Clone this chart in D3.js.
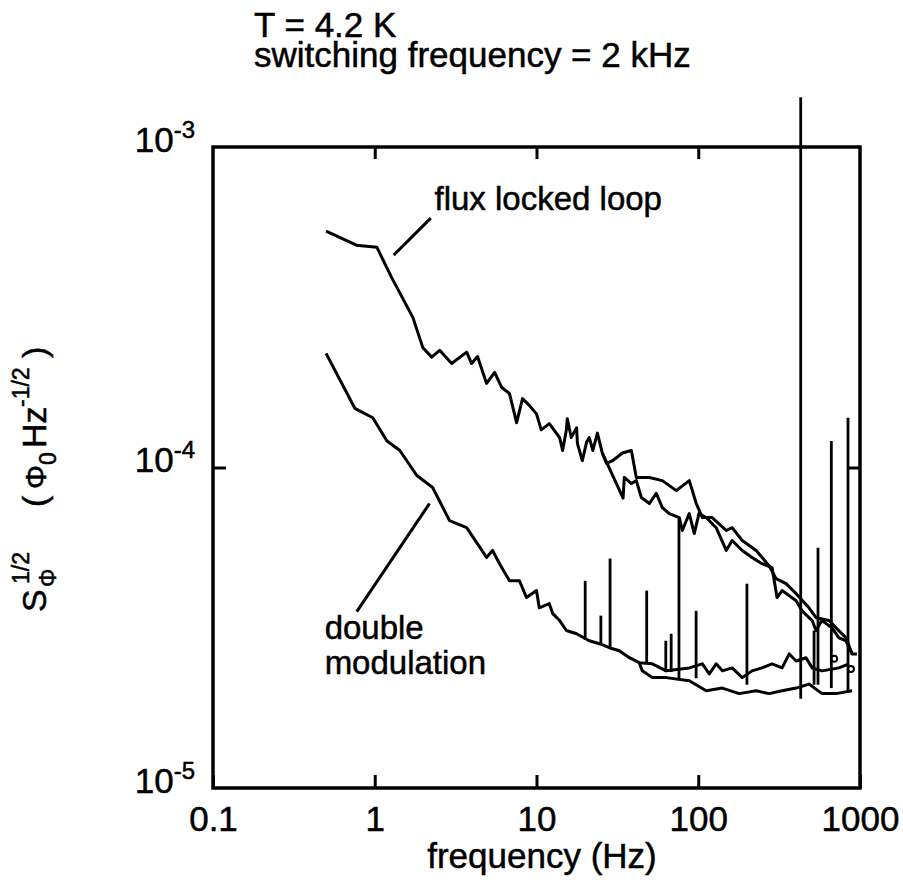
<!DOCTYPE html>
<html>
<head>
<meta charset="utf-8">
<script src="https://cdn.jsdelivr.net/npm/d3@7"></script>
<style>
  body { margin: 0; background: #fff; }
  svg { font-family: "Liberation Sans", Arial, sans-serif; }
  text { stroke: #000; stroke-width: 0.5px; }
</style>
</head>
<body>
<svg width="903" height="884"></svg>
<script>
// [frequency Hz, S^1/2 Phi0/sqrt(Hz)]
var fllUpper = [
  [0.5, 5.46e-4], [0.77, 4.94e-4], [1.03, 4.87e-4], [1.27, 3.92e-4], [1.72, 2.94e-4],
  [1.98, 2.37e-4], [2.25, 2.21e-4], [2.52, 2.32e-4], [2.99, 2.11e-4], [3.7, 2.29e-4],
  [3.97, 2.11e-4], [4.32, 2.22e-4], [4.91, 1.83e-4], [5.51, 1.98e-4], [6.08, 1.78e-4],
  [6.81, 1.7e-4], [7.53, 1.38e-4], [8.2, 1.64e-4], [9.05, 1.56e-4], [10, 1.47e-4],
  [10.7, 1.31e-4], [12, 1.37e-4], [13.9, 1.24e-4], [14.5, 1.13e-4], [15.3, 1.31e-4],
  [15.5, 1.42e-4], [16.4, 1.24e-4], [17.7, 1.33e-4], [17.9, 1.19e-4], [19, 1.07e-4],
  [19.2, 1.05e-4], [20.4, 1.2e-4], [21.2, 1.24e-4], [22.3, 1.13e-4], [23.8, 1.28e-4],
  [25.5, 1.11e-4], [27.1, 1.03e-4], [29.5, 1.05e-4], [34, 1.11e-4], [38.6, 1.13e-4],
  [41.4, 9.31e-5], [49.9, 9.31e-5], [60, 9.1e-5], [73.2, 8.47e-5], [88, 9.1e-5],
  [97.2, 7.72e-5], [106, 6.98e-5], [122, 6.98e-5], [149, 6.36e-5], [162, 6.49e-5],
  [187, 5.92e-5], [228, 5.51e-5], [274, 4.94e-5], [303, 4.5e-5], [349, 4.34e-5],
  [403, 4.04e-5], [484, 3.65e-5], [535, 3.4e-5], [644, 3.33e-5], [711, 3.16e-5],
  [820, 2.94e-5], [893, 2.62e-5], [957, 2.62e-5]
];
var fllLower = [
  [25.5, 1.11e-4], [31.2, 8.91e-5], [34.3, 8.03e-5], [34.9, 9.31e-5], [38.6, 8.91e-5],
  [41.4, 9.1e-5], [44.5, 8.06e-5], [49.9, 7.72e-5], [55, 8.3e-5], [60, 7.5e-5],
  [66.2, 7.18e-5], [76.4, 6.98e-5], [79.7, 6.36e-5], [88, 7.18e-5], [94.5, 6.22e-5],
  [101, 7.18e-5], [112, 6.98e-5], [129, 6.49e-5], [149, 5.51e-5], [162, 5.92e-5],
  [187, 5.51e-5], [215, 5.24e-5], [248, 5.01e-5], [286, 4.87e-5], [307, 3.93e-5],
  [330, 4.13e-5], [403, 3.84e-5], [438, 3.57e-5], [506, 3.33e-5], [535, 3.1e-5],
  [582, 3.33e-5], [671, 3.16e-5], [741, 2.94e-5], [820, 2.88e-5], [893, 2.62e-5]
];
var dmUpper = [
  [0.5, 2.27e-4], [0.753, 1.53e-4], [0.972, 1.43e-4], [1.19, 1.21e-4], [1.43, 1.13e-4],
  [1.82, 9.44e-5], [2.28, 8.66e-5], [2.9, 6.83e-5], [3.7, 6.49e-5], [4.91, 5.24e-5],
  [5.35, 5.51e-5], [5.91, 5.01e-5], [6.81, 4.43e-5], [7.85, 4.43e-5], [8.67, 3.93e-5],
  [10, 4.13e-5], [10.4, 3.65e-5], [12, 3.76e-5], [12.6, 3.5e-5], [13.9, 3.33e-5],
  [15.3, 3.1e-5], [17.7, 3.03e-5], [21.2, 2.88e-5], [24.5, 2.82e-5], [28.2, 2.74e-5],
  [32.5, 2.68e-5], [37.5, 2.55e-5], [43.2, 2.46e-5], [52, 2.44e-5], [63.4, 2.32e-5],
  [88, 2.37e-5], [106, 2.44e-5], [117, 2.27e-5], [129, 2.44e-5], [141, 2.32e-5],
  [162, 2.37e-5], [187, 2.21e-5], [215, 2.32e-5], [248, 2.37e-5], [286, 2.44e-5],
  [330, 2.37e-5], [365, 2.62e-5], [403, 2.49e-5], [464, 2.55e-5], [506, 2.37e-5],
  [582, 2.32e-5], [741, 2.37e-5], [855, 2.44e-5]
];
var dmLower = [
  [43.2, 2.46e-5], [45.1, 2.32e-5], [52, 2.21e-5], [63.4, 2.21e-5], [88, 2.16e-5],
  [112, 2.01e-5], [141, 2.05e-5], [179, 1.97e-5], [228, 2.01e-5], [274, 1.97e-5],
  [330, 2.01e-5], [403, 2.05e-5], [484, 2.11e-5], [582, 1.97e-5], [711, 1.97e-5],
  [893, 2.01e-5]
];
// line pickup spikes
var spikeFreq = [20, 25, 28.5, 48, 63, 68, 76, 97, 200, 430, 520, 550, 665, 843];
var spikeTop  = [4.43e-5, 3.45e-5, 5.2e-5, 4.13e-5, 2.88e-5, 3.03e-5, 6.9e-5, 3.57e-5, 4.34e-5, 1.43e-3, 3.1e-5, 5.62e-5, 1.21e-4, 1.43e-4];
var spikeBase = [2.9e-5, 2.8e-5, 2.75e-5, 2.45e-5, 2.3e-5, 2.3e-5, 2.2e-5, 2.2e-5, 2.1e-5, 1.9e-5, 2.1e-5, 2.1e-5, 2.05e-5, 2.0e-5];
var circles = [[692, 2.53e-5], [879, 2.35e-5]];

var xTicks = [0.1, 1, 10, 100, 1000];
var xTickLabels = ["0.1", "1", "10", "100", "1000"];
var yTicks = [1e-5, 1e-4, 1e-3];
var yTickExp = ["-5", "-4", "-3"];

var pLeft = 213, pRight = 860, pTop = 147, pBottom = 788;
var svg = d3.select("svg");

var x = d3.scaleLog().domain([0.1, 1000]).range([pLeft, pRight]);
var y = d3.scaleLog().domain([1e-5, 1e-3]).range([pBottom, pTop]);

// bottom axis (ticks inward)
var bottomAxis = d3.axisBottom(x).tickValues(xTicks)
  .tickFormat(function(d, i) { return xTickLabels[i]; })
  .tickSizeInner(-13).tickSizeOuter(0).tickPadding(18);
var gb = svg.append("g").attr("transform", "translate(0," + pBottom + ")").call(bottomAxis);
gb.select(".domain").remove();
gb.selectAll(".tick line").attr("stroke-width", 3).attr("stroke", "#000");
gb.selectAll(".tick text").attr("font-size", 35).attr("fill", "#000")
  .attr("font-family", "Liberation Sans, Arial, sans-serif");

var topAxis = d3.axisTop(x).tickValues([1, 10, 100]).tickFormat("")
  .tickSizeInner(-12).tickSizeOuter(0);
var gt = svg.append("g").attr("transform", "translate(0," + pTop + ")").call(topAxis);
gt.select(".domain").remove();
gt.selectAll(".tick line").attr("stroke-width", 3).attr("stroke", "#000");

var leftAxis = d3.axisLeft(y).tickValues(yTicks).tickFormat("")
  .tickSizeInner(-13).tickSizeOuter(0).tickPadding(18);
var gl = svg.append("g").attr("transform", "translate(" + pLeft + ",0)").call(leftAxis);
gl.select(".domain").remove();
gl.selectAll(".tick line").attr("stroke-width", 3).attr("stroke", "#000")
  .attr("display", function(d) { return d === 1e-4 ? null : "none"; });
gl.selectAll(".tick text")
  .attr("font-family", "Liberation Sans, Arial, sans-serif")
  .attr("fill", "#000").attr("dy", "0.42em")
  .each(function(d, i) {
    var t = d3.select(this);
    t.append("tspan").attr("font-size", 35).text("10");
    t.append("tspan").attr("font-size", 24).attr("dy", -14).text(yTickExp[i]);
  });

var rightAxis = d3.axisRight(y).tickValues([1e-4]).tickFormat("")
  .tickSizeInner(-13).tickSizeOuter(0);
var gr = svg.append("g").attr("transform", "translate(" + pRight + ",0)").call(rightAxis);
gr.select(".domain").remove();
gr.selectAll(".tick line").attr("stroke-width", 3).attr("stroke", "#000");

// frame
svg.append("rect")
  .attr("x", pLeft).attr("y", pTop)
  .attr("width", pRight - pLeft).attr("height", pBottom - pTop)
  .attr("fill", "none").attr("stroke", "#000").attr("stroke-width", 3.5);

var line = d3.line()
  .x(function(d) { return x(d[0]); })
  .y(function(d) { return y(d[1]); });

[fllUpper, fllLower, dmUpper, dmLower].forEach(function(s) {
  svg.append("path").datum(s)
    .attr("d", line)
    .attr("fill", "none").attr("stroke", "#000")
    .attr("stroke-width", 3).attr("stroke-linejoin", "round");
});

svg.selectAll(".spike")
  .data(spikeFreq).enter()
  .append("line")
  .attr("class", "spike")
  .attr("x1", function(d) { return x(d); })
  .attr("x2", function(d) { return x(d); })
  .attr("y1", function(d, i) { return y(spikeBase[i]); })
  .attr("y2", function(d, i) { return y(spikeTop[i]); })
  .attr("stroke", "#000").attr("stroke-width", 2.8);

svg.selectAll(".circ")
  .data(circles).enter()
  .append("circle")
  .attr("cx", function(d) { return x(d[0]); })
  .attr("cy", function(d) { return y(d[1]); })
  .attr("r", 3).attr("fill", "none").attr("stroke", "#000").attr("stroke-width", 2);

// annotations
var ann = svg.append("g").attr("font-size", 33).attr("fill", "#000");
ann.append("text").attr("x", x(2.34)).attr("y", y(6.36e-4)).text("flux locked loop");
svg.append("line")
  .attr("x1", x(2.22)).attr("y1", y(6.0e-4))
  .attr("x2", x(1.31)).attr("y2", y(4.6e-4))
  .attr("stroke", "#000").attr("stroke-width", 3);
ann.append("text").attr("x", x(0.49)).attr("y", y(2.92e-5)).text("double");
ann.append("text").attr("x", x(0.49)).attr("y", y(2.27e-5)).text("modulation");
svg.append("line")
  .attr("x1", x(2.18)).attr("y1", y(7.72e-5))
  .attr("x2", x(0.774)).attr("y2", y(3.55e-5))
  .attr("stroke", "#000").attr("stroke-width", 3);

// header
var head = svg.append("g").attr("font-size", 35).attr("fill", "#000");
head.append("text").attr("x", 254).attr("y", 37).text("T = 4.2 K");
head.append("text").attr("x", 254).attr("y", 67).text("switching frequency = 2 kHz");

// axis titles
svg.append("text")
  .attr("x", 542).attr("y", 868)
  .attr("text-anchor", "middle").attr("font-size", 35).attr("fill", "#000")
  .text("frequency (Hz)");

var yl = svg.append("g").attr("transform", "translate(46,612) rotate(-90)").attr("fill", "#000");
yl.append("text").attr("x", 0).attr("y", 0).attr("font-size", 34).text("S");
yl.append("text").attr("x", 25).attr("y", 10).attr("font-size", 23).text("Φ");
yl.append("text").attr("x", 28).attr("y", -17).attr("font-size", 23).text("1/2");
yl.append("text").attr("x", 105).attr("y", 0).attr("font-size", 34).text("(");
yl.append("text").attr("x", 123).attr("y", 0).attr("font-size", 30).text("Φ");
yl.append("text").attr("x", 147).attr("y", 10).attr("font-size", 23).text("0");
yl.append("text").attr("x", 164).attr("y", 0).attr("font-size", 34).text("Hz");
yl.append("text").attr("x", 205).attr("y", -17).attr("font-size", 23).text("-1/2");
yl.append("text").attr("x", 254).attr("y", 0).attr("font-size", 34).text(")");
</script>
</body>
</html>
